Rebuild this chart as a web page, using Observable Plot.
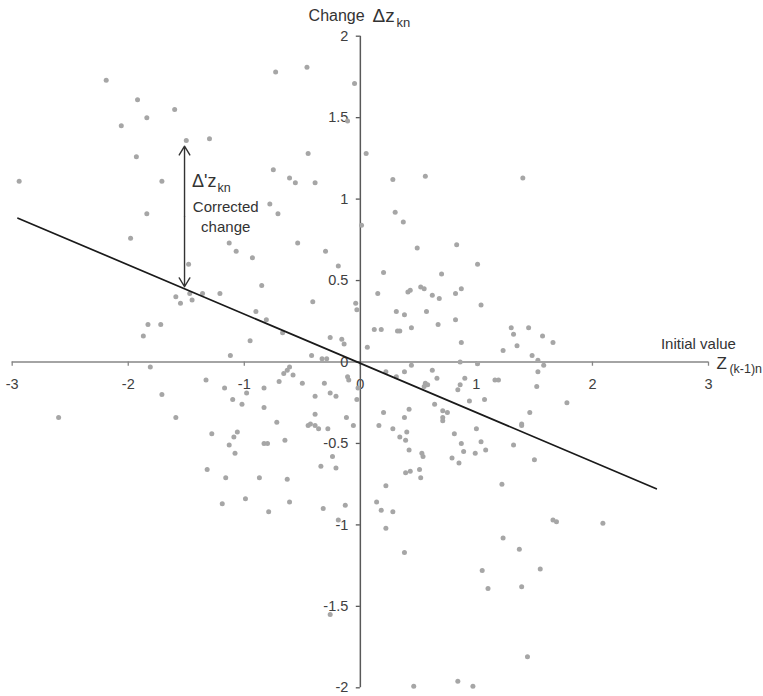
<!DOCTYPE html>
<html>
<head>
<meta charset="utf-8">
<script src="https://cdn.jsdelivr.net/npm/d3@7"></script>
<script src="https://cdn.jsdelivr.net/npm/@observablehq/plot@0.6"></script>
<style>
  html, body { margin: 0; padding: 0; background: #fff; }
</style>
</head>
<body>
<div id="chart"></div>
<script>
// Initial value z(k-1)n
const initialValue = [
  -2.19,-1.92,-1.60,-1.84,-2.06,-1.50,-1.30,-1.93,-2.94,-1.71,-1.84,-1.98,-1.13,-1.07,-0.93,
  -0.73,-0.46,-0.05,-0.11,0.05,-0.45,-0.75,-0.61,-0.56,-0.39,0.28,0.56,-0.78,-0.71,0.30,0.37,0.01,-0.54,-0.30,0.49,0.83,
  1.40,
  -1.48,-1.59,-1.55,-1.47,-1.45,-1.36,-1.21,-0.90,-1.83,-1.72,-1.87,-0.95,-1.12,-1.81,-1.33,-1.17,-0.98,-1.71,-1.10,-1.02,-2.60,-1.59,-1.28,-1.06,-1.09,-1.13,-1.08,-1.32,-1.16,
  -0.19,-0.85,-0.41,-0.04,-0.03,-0.81,-0.67,-0.26,-0.16,-0.14,-0.42,-0.33,-0.29,
  -0.61,-0.63,-0.66,-0.58,-0.70,-0.50,-0.31,-0.11,-0.10,-0.83,-0.39,-0.26,-0.21,-0.02,-0.03,-0.83,-0.39,-0.12,-0.72,-0.45,-0.43,-0.39,-0.36,-0.28,-0.06,-0.83,-0.80,-0.65,-0.24,-0.34,-0.21,-0.87,-0.63,
  0.20,0.06,0.15,0.41,0.43,0.52,0.55,0.70,1.01,0.62,0.68,0.82,0.87,0.31,0.38,0.57,1.04,0.12,0.18,0.32,0.34,0.44,0.67,0.82,0.87,1.23,0.86,1.01,0.44,0.22,0.31,0.38,0.62,0.66,0.90,0.86,0.84,0.56,0.58,0.55,1.16,1.19,0.94,1.07,0.64,0.71,0.75,0.71,0.71,0.42,0.20,0.38,0.16,0.28,0.40,0.34,0.39,0.42,0.53,0.54,0.81,0.87,0.89,0.79,0.85,1.00,1.04,1.08,0.99,0.39,0.43,0.51,0.52,
  1.30,1.45,1.32,1.57,1.66,1.35,1.48,1.53,1.58,1.53,1.52,1.78,1.46,1.39,1.39,1.32,1.50,
  -0.79,-0.61,-0.32,-0.13,-0.19,0.22,0.14,0.18,0.28,0.22,0.38,-0.26,0.46,0.84,0.97,1.22,1.23,1.05,1.10,
  1.66,1.69,2.09,1.37,1.55,1.39,1.44,
  -1.19,-0.99
];
// Change Δz_kn
const changeValue = [
  1.73,1.61,1.55,1.50,1.45,1.36,1.37,1.26,1.11,1.11,0.91,0.76,0.73,0.68,0.64,
  1.78,1.81,1.71,1.48,1.28,1.28,1.18,1.13,1.10,1.10,1.12,1.14,0.97,0.91,0.92,0.86,0.84,0.73,0.68,0.70,0.72,
  1.13,
  0.60,0.40,0.36,0.42,0.38,0.42,0.42,0.31,0.23,0.23,0.16,0.13,0.04,-0.03,-0.11,-0.16,-0.19,-0.20,-0.23,-0.26,-0.34,-0.34,-0.44,-0.43,-0.46,-0.51,-0.56,-0.66,-0.71,
  0.59,0.47,0.37,0.36,0.32,0.26,0.18,0.15,0.14,0.11,0.04,0.02,0.02,
  -0.03,-0.05,-0.07,-0.08,-0.12,-0.13,-0.13,-0.09,-0.11,-0.16,-0.21,-0.19,-0.21,-0.16,-0.23,-0.28,-0.32,-0.34,-0.37,-0.39,-0.38,-0.39,-0.41,-0.41,-0.39,-0.50,-0.50,-0.48,-0.58,-0.64,-0.65,-0.71,-0.72,
  0.55,0.09,0.42,0.43,0.44,0.46,0.45,0.54,0.60,0.41,0.39,0.42,0.45,0.31,0.29,0.31,0.35,0.20,0.20,0.19,0.19,0.21,0.23,0.26,0.12,0.07,0.00,-0.01,-0.02,-0.06,-0.09,-0.06,-0.05,-0.10,-0.10,-0.14,-0.17,-0.13,-0.14,-0.15,-0.11,-0.11,-0.24,-0.23,-0.26,-0.30,-0.31,-0.34,-0.36,-0.29,-0.31,-0.34,-0.39,-0.41,-0.43,-0.46,-0.48,-0.54,-0.56,-0.58,-0.44,-0.50,-0.55,-0.59,-0.62,-0.41,-0.49,-0.54,-0.56,-0.68,-0.67,-0.66,-0.71,
  0.21,0.21,0.17,0.16,0.12,0.10,0.04,0.01,-0.02,-0.06,-0.15,-0.25,-0.31,-0.38,-0.39,-0.51,-0.60,
  -0.92,-0.86,-0.90,-0.88,-0.97,-0.76,-0.86,-0.91,-0.92,-1.02,-1.17,-1.55,-1.99,-1.96,-1.99,-0.75,-1.08,-1.28,-1.39,
  -0.97,-0.98,-0.99,-1.15,-1.27,-1.38,-1.81,
  -0.87,-0.84
];

const xTicks = [-3, -2, -1, 0, 1, 2, 3];
const xTickLabels = ["-3", "-2", "-1", "0", "1", "2", "3"];
const yTicks = [2, 1.5, 1, 0.5, 0, -0.5, -1, -1.5, -2];
const yTickLabels = ["2", "1.5", "1", "0.5", "0", "-0.5", "-1", "-1.5", "-2"];

// regression line y = slope * x + intercept
const lineStartEnd = [-2.95, 2.55];
const slope = -0.302;
const intercept = -0.008;

// corrected change arrow (at x = -1.515, from the line up to the point)
const arrowX = [-1.515];
const arrowFrom = [0.462];
const arrowTo = [1.325];

const points = initialValue.map((x, i) => ({x, y: changeValue[i]}));
const lineData = lineStartEnd.map(x => ({x, y: slope * x + intercept}));
const arrowHalves = arrowX.flatMap((x, i) => {
  const mid = (arrowFrom[i] + arrowTo[i]) / 2;
  return [{x, y1: mid, y2: arrowTo[i]}, {x, y1: mid, y2: arrowFrom[i]}];
});

const font = "'Liberation Sans', Arial, sans-serif";
const txt = "#404040";
const ann = "#333333";

const chart = Plot.plot({
  width: 763,
  height: 696,
  marginLeft: 11.7,
  marginRight: 55,
  marginTop: 35.7,
  marginBottom: 8.7,
  x: {domain: [-3, 3], axis: null},
  y: {domain: [-2, 2], axis: null},
  style: {fontFamily: font, background: "white", overflow: "visible"},
  marks: [
    // x axis at y = 0
    Plot.ruleY([0], {x1: -3, x2: 3, stroke: "#868686", strokeWidth: 1.5}),
    Plot.ruleX(xTicks, {x: d => d, y1: 0, y2: -0.026, stroke: "#868686", strokeWidth: 1.3}),
    Plot.text(xTicks, {x: d => d, y: 0, dy: 22, text: (d, i) => xTickLabels[i], fontSize: 14.5, fill: txt}),
    // y axis at x = 0
    Plot.ruleX([0], {y1: -2, y2: 2, stroke: "#595959", strokeWidth: 1.5}),
    Plot.ruleY(yTicks, {y: d => d, x1: 0, x2: -0.035, stroke: "#595959", strokeWidth: 1.3}),
    Plot.text(yTicks, {x: 0, y: d => d, dx: -12, textAnchor: "end", text: (d, i) => yTickLabels[i], fontSize: 14.5, fill: txt}),
    // data points
    Plot.dot(points, {x: "x", y: "y", r: 2.5, fill: "#a6a6a6", stroke: "none"}),
    // regression line
    Plot.line(lineData, {x: "x", y: "y", stroke: "#1a1a1a", strokeWidth: 1.7}),
    // corrected change double arrow
    Plot.arrow(arrowHalves, {x1: "x", x2: "x", y1: "y1", y2: "y2", stroke: ann, strokeWidth: 1.4, headLength: 11, headAngle: 62}),
    // annotations
    Plot.text(["Δ'z"], {x: -1.45, y: 1.11, text: d => d, textAnchor: "start", fontSize: 18, fill: ann}),
    Plot.text(["kn"], {x: -1.232, y: 1.07, text: d => d, textAnchor: "start", fontSize: 12.5, fill: ann}),
    Plot.text(["Corrected"], {x: -1.16, y: 0.948, text: d => d, fontSize: 15, fill: ann}),
    Plot.text(["change"], {x: -1.16, y: 0.825, text: d => d, fontSize: 15, fill: ann}),
    // axis titles
    Plot.text(["Change"], {x: -0.446, y: 2.127, text: d => d, textAnchor: "start", fontSize: 16, fill: ann}),
    Plot.text(["Δz"], {x: 0.105, y: 2.125, text: d => d, textAnchor: "start", fontSize: 19, fill: ann}),
    Plot.text(["kn"], {x: 0.312, y: 2.085, text: d => d, textAnchor: "start", fontSize: 13, fill: ann}),
    Plot.text(["Initial value"], {x: 2.59, y: 0.112, text: d => d, textAnchor: "start", fontSize: 15, fill: ann}),
    Plot.text(["Z"], {x: 3.07, y: -0.008, text: d => d, textAnchor: "start", fontSize: 17, fill: ann}),
    Plot.text(["(k-1)n"], {x: 3.18, y: -0.042, text: d => d, textAnchor: "start", fontSize: 12.5, fill: ann})
  ]
});
document.getElementById("chart").appendChild(chart);
</script>
</body>
</html>
